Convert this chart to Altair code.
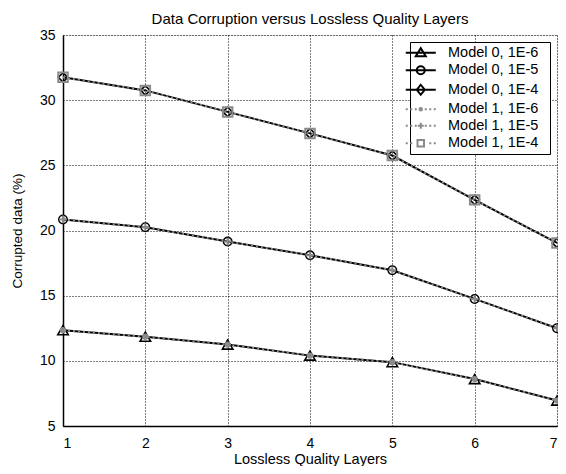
import altair as alt
import pandas as pd

layers = [1, 2, 3, 4, 5, 6, 7]
series_names = ["Model 0, 1E-6", "Model 0, 1E-5", "Model 0, 1E-4",
                "Model 1, 1E-6", "Model 1, 1E-5", "Model 1, 1E-4"]

m0_1e6 = [12.35, 11.85, 11.25, 10.40, 9.90, 8.60, 6.95]
m0_1e5 = [20.85, 20.25, 19.15, 18.10, 16.95, 14.75, 12.50]
m0_1e4 = [31.75, 30.75, 29.10, 27.45, 25.75, 22.35, 19.05]
m1_1e6 = [12.35, 11.85, 11.25, 10.40, 9.90, 8.60, 6.95]
m1_1e5 = [20.85, 20.25, 19.15, 18.10, 16.95, 14.75, 12.50]
m1_1e4 = [31.75, 30.75, 29.10, 27.45, 25.75, 22.35, 19.05]

values = [m0_1e6, m0_1e5, m0_1e4, m1_1e6, m1_1e5, m1_1e4]
rows = []
for name, vals in zip(series_names, values):
    for x, v in zip(layers, vals):
        rows.append({"layer": x, "value": v, "series": name})
df = pd.DataFrame(rows)

FONT = "Liberation Sans"
GRAY = "#8a8a8a"

x_enc = alt.X("layer:Q", scale=alt.Scale(domain=[1, 7], nice=False),
              axis=alt.Axis(title="Lossless Quality Layers", values=layers, format="d",
                            grid=True, gridColor="black", gridDash=[1, 2], gridWidth=1,
                            ticks=False, labelPadding=10, titlePadding=2,
                            domainColor="black", domainWidth=1.5,
                            labelFont=FONT, titleFont=FONT, labelFontSize=14,
                            titleFontSize=14.5, titleFontWeight="normal", labelColor="black",
                            titleColor="black"))
y_enc = alt.Y("value:Q", scale=alt.Scale(domain=[5, 35], nice=False),
              axis=alt.Axis(title="Corrupted data (%)", values=[5, 10, 15, 20, 25, 30, 35],
                            grid=True, gridColor="black", gridDash=[1, 2], gridWidth=1,
                            ticks=False, labelPadding=8, titlePadding=15,
                            domainColor="black", domainWidth=1.5,
                            labelFont=FONT, titleFont=FONT, labelFontSize=14,
                            titleFontSize=13.5, titleFontWeight="normal", labelColor="black",
                            titleColor="black"))

base = alt.Chart(df)

model0_shapes = ["triangle-up", "circle", "diamond"]
model0_sizes = [110, 70, 90]
model1_shapes = ["circle", "M-1,0H1M0,-1V1", "square"]
model1_sizes = [40, 60, 90]
model1_filled = [True, False, False]

chart_layers = []
for i in range(3):
    name = series_names[i]
    sub = base.transform_filter(alt.datum.series == name)
    chart_layers.append(sub.mark_line(color="black", strokeWidth=2).encode(x=x_enc, y=y_enc))
for i in range(3):
    name = series_names[i]
    sub = base.transform_filter(alt.datum.series == name)
    chart_layers.append(sub.mark_point(shape=model0_shapes[i], size=model0_sizes[i],
                                       color="black", strokeWidth=1.6, filled=False,
                                       opacity=1).encode(x=x_enc, y=y_enc))
for i in range(3):
    name = series_names[3 + i]
    sub = base.transform_filter(alt.datum.series == name)
    chart_layers.append(sub.mark_line(color=GRAY, strokeWidth=2, strokeDash=[2, 3])
                        .encode(x=x_enc, y=y_enc))
for i in range(3):
    name = series_names[3 + i]
    sub = base.transform_filter(alt.datum.series == name)
    chart_layers.append(sub.mark_point(shape=model1_shapes[i], size=model1_sizes[i],
                                       color=GRAY, strokeWidth=2, filled=model1_filled[i],
                                       opacity=1).encode(x=x_enc, y=y_enc))

dots = "M-3,0H-2.6M-2.1,0H-1.7M1.7,0H2.1M2.6,0H3"
legend_paths = [
    "M-3,0H3M-1,0.7L0,-0.9L1,0.7Z",
    "M-3,0H3M-0.8,0A0.8,0.8 0 1,0 0.8,0A0.8,0.8 0 1,0 -0.8,0Z",
    "M-3,0H3M0,-1L0.8,0L0,1L-0.8,0Z",
    dots + "M-1.2,0H-0.8M-0.25,0A0.25,0.25 0 1,0 0.25,0A0.25,0.25 0 1,0 -0.25,0ZM0.8,0H1.2",
    dots + "M-1.2,0H-0.8M-0.6,0H0.6M0,-0.6V0.6M0.8,0H1.2",
    dots + "M-0.65,-0.65H0.65V0.65H-0.65Z",
]
legend_colors = ["black", "black", "black", GRAY, GRAY, GRAY]

leg = alt.Legend(title=None, orient="top-right", offset=7, strokeColor="black",
                 fillColor="white", padding=3.5, labelFont=FONT, labelFontSize=14.5,
                 labelColor="black", symbolStrokeWidth=2, symbolSize=100,
                 labelOffset=20, rowPadding=1.5, labelLimit=250,
                 labelExpr="datum.label + '\u00a0\u00a0\u200b'")

legend_layer = base.transform_filter("false").mark_point(filled=False, opacity=1).encode(
    x=x_enc, y=y_enc,
    shape=alt.Shape("series:N", scale=alt.Scale(domain=series_names, range=legend_paths),
                    legend=leg),
    color=alt.Color("series:N", scale=alt.Scale(domain=series_names, range=legend_colors),
                    legend=leg),
)
chart_layers.append(legend_layer)

chart = alt.layer(*chart_layers).properties(
    width=494, height=391,
    title=alt.TitleParams("Data Corruption versus Lossless Quality Layers", font=FONT,
                          fontSize=15, fontWeight="normal", color="black", offset=1),
    autosize=alt.AutoSizeParams(type="none"),
    padding={"left": 55, "top": 27, "right": 1, "bottom": 40},
).configure_view(stroke="black", strokeWidth=1.5).configure(background="white")

chart.save("out.html", embed_options={"renderer": "svg", "actions": False})
